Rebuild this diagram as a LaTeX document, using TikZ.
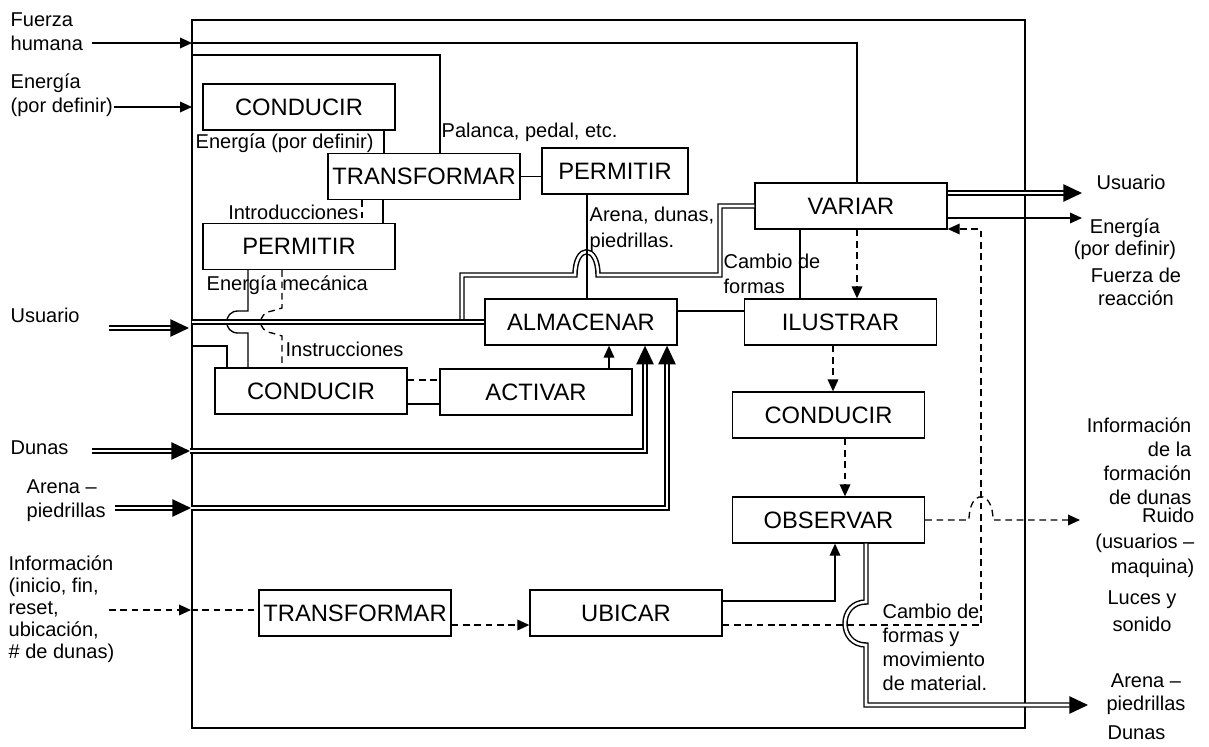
\documentclass[tikz,border=0pt]{standalone}
\usepackage{fontspec}
\setmainfont{Liberation Sans}
\usetikzlibrary{positioning,calc,arrows.meta}

\begin{document}
\begin{tikzpicture}[x=0.75pt,y=-0.75pt,line width=1pt]
\tikzstyle{caja}=[draw,minimum width=144pt,minimum height=34.5pt,inner sep=0pt,
  font=\fontsize{17.8}{20}\selectfont]
\tikzstyle{etiq}=[inner sep=0pt,font=\fontsize{15}{18}\selectfont]
\tikzstyle{dbl}=[double,double distance=1.9pt,line width=1.1pt]
\tikzstyle{trazos}=[dash pattern=on 5pt off 3.5pt]
\tikzstyle{gruesa}=[-{Triangle[length=14pt,width=13pt]}]
\tikzset{>={Triangle[length=9pt,width=8pt]}}
\useasboundingbox (0,0) rectangle (1209,746);
\draw (192,20) rectangle (1025,728);
\node[caja] (condA) at (299,107) {CONDUCIR};
\node[caja] (transA) at (424,176.5) {TRANSFORMAR};
\node[caja,minimum width=109.5pt] (permA) at (615,171) {PERMITIR};
\node[caja] (permB) at (299,246.5) {PERMITIR};
\node[caja] (alm) at (581,322) {ALMACENAR};
\node[caja] (variar) at (851,206) {VARIAR};
\node[caja] (ilus) at (840.5,322) {ILUSTRAR};
\node[caja] (condB) at (311,391) {CONDUCIR};
\node[caja] (activar) at (536,392) {ACTIVAR};
\node[caja] (condC) at (828.5,415) {CONDUCIR};
\node[caja] (observar) at (828.5,520) {OBSERVAR};
\node[caja] (transB) at (355,613) {TRANSFORMAR};
\node[caja] (ubicar) at (626,613) {UBICAR};
\node[etiq,align=left,anchor=west] (fhIn) at (10,32) {Fuerza\\humana};
\node[etiq,align=left,anchor=west] (enIn) at (10,95) {Energía\\(por definir)};
\node[etiq,anchor=west] (usIn) at (10,315) {Usuario};
\node[etiq,anchor=west] (duIn) at (10,448) {Dunas};
\node[etiq,align=left,anchor=west] (arIn) at (26,501) {Arena –\\piedrillas};
\node[etiq,align=left,anchor=west,font=\fontsize{15}{16.5}\selectfont] (infIn) at (8,609)
  {Información\\(inicio, fin,\\reset,\\ubicación,\\\# de dunas)};
\node[etiq,anchor=west] (usOut) at (1096,182) {Usuario};
\node[etiq,align=center,font=\fontsize{15}{16.5}\selectfont] (enOut) at (1125,239) {Energía\\(por definir)};
\node[etiq,align=center,font=\fontsize{15}{17}\selectfont] (frOut) at (1136,287) {Fuerza de\\reacción};
\node[etiq,align=right,anchor=east] (infOut) at (1192,461) {Información\\de la\\formación\\de dunas};
\node[etiq,align=right,anchor=east,font=\fontsize{15}{19}\selectfont] (ruOut) at (1195,543)
  {Ruido\\(usuarios –\\maquina)};
\node[etiq,align=center,font=\fontsize{15}{20}\selectfont] (luOut) at (1142,611) {Luces y\\sonido};
\node[etiq,align=center,font=\fontsize{15}{17}\selectfont] (arOut) at (1146,694) {Arena –\\piedrillas};
\node[etiq,anchor=west] (duOut) at (1107,733) {Dunas};
\node[etiq,anchor=west] (lEnDef) at (195,143) {Energía (por definir)};
\node[etiq,anchor=west] (lPal) at (441,132) {Palanca, pedal, etc.};
\node[etiq,anchor=east] (lIntro) at (359,212) {Introducciones};
\node[etiq,anchor=west] (lEnMec) at (206,285) {Energía mecánica};
\node[etiq,anchor=west] (lInstr) at (285,349) {Instrucciones};
\node[etiq,align=left,anchor=west,font=\fontsize{15}{19.5}\selectfont] (lArena) at (589,229)
  {Arena, dunas,\\piedrillas.};
\node[etiq,align=left,anchor=west,font=\fontsize{15}{18.5}\selectfont] (lCambio) at (723,274)
  {Cambio de\\formas};
\node[etiq,align=left,anchor=west] (lMov) at (882,647) {Cambio de\\formas y\\movimiento\\de material.};
\coordinate (pFH) at (192,43);
\coordinate (pTop) at (192,55);
\coordinate (pEn) at (192,107);
\coordinate (pUs) at (192,322);
\coordinate (pUsIn) at (189,328);
\coordinate (pCB) at (192,346);
\coordinate (pDu) at (190,451);
\coordinate (pAr) at (191,508);
\coordinate (pInf) at (191,610);
\coordinate (oUs) at (1082,193);
\coordinate (oEn) at (1082,218);
\coordinate (oRu) at (1080,520);
\coordinate (oAr) at (1088,705);
\coordinate (kVa) at (981,229);
\draw[->] ($(fhIn.east |- pFH)+(8,0)$) -- (pFH);
\draw (pFH) -| ($(variar.north)+(6,0)$);
\draw[->] (enIn.east |- pEn) -- (pEn);
\draw (pTop) -| ($(transA.north)+(16,0)$);
\draw ($(condA.south)+(85,0)$) -- ($(condA.south |- transA.north)+(85,0)$);
\draw (transA.east) -- (transA.east -| permA.west);
\draw ($(transA.south)+(-41,0)$) -- ($(transA.south |- permB.north)+(-41,0)$);
\draw[trazos] ($(transA.south)+(-62,0)$) -- ($(transA.south |- permB.north)+(-62,0)$);
\draw ($(permB.south)+(-51,0)$) -- (248,311) -- (238,311)
  .. controls (223,311) and (223,333) .. (238,333) -- (248,333)
  -- ($(permB.south |- condB.north)+(-51,0)$);
\draw[trazos] ($(permB.south)+(-17,0)$) -- (282,308) -- (272,311)
  .. controls (257,313) and (257,331) .. (272,333) -- (282,336)
  -- ($(permB.south |- condB.north)+(-17,0)$);
\draw (pCB) -| ($(condB.north)+(-84,0)$);
\draw[trazos] ($(condB.east)+(0,-11)$) -- ($(activar.west |- condB.east)+(0,-11)$);
\draw ($(condB.east)+(0,13)$) -- ($(activar.west |- condB.east)+(0,13)$);
\draw[->] ($(activar.north)+(73,0)$) -- ($(activar.north |- alm.south)+(73,0)$);
\draw[dbl,gruesa] ($(usIn.east |- pUsIn)+(29,0)$) -- (pUsIn);
\draw[dbl] ($(pUs)+(270,0)$) -- (462,275) -- (575,275)
  .. controls (575,244) and (598,244) .. (598,275) -- (720,275) |- (variar.west);
\draw[dbl] (pUs) -- (pUs -| alm.west);
\draw ($(permA.south)+(-28,0)$) -- ($(permA.south |- alm.north)+(-28,0)$);
\draw ($(alm.east)+(0,-11)$) -- ($(ilus.west |- alm.east)+(0,-11)$);
\draw ($(variar.south)+(-51,0)$) -- ($(variar.south |- ilus.north)+(-51,0)$);
\draw[trazos,->] ($(variar.south)+(6,0)$) -- ($(variar.south |- ilus.north)+(6,0)$);
\draw[trazos,->] ($(ilus.south)+(-7.5,0)$) -- ($(ilus.south |- condC.north)+(-7.5,0)$);
\draw[trazos,->] ($(condC.south)+(16.5,0)$) -- ($(condC.south |- observar.north)+(16.5,0)$);
\draw[dbl,gruesa] ($(duIn.east |- pDu)+(23,0)$) -- (pDu);
\draw[dbl,gruesa] (pDu) -| ($(alm.south)+(64,0)$);
\draw[dbl,gruesa] ($(arIn.east |- pAr)+(9,0)$) -- (pAr);
\draw[dbl,gruesa] (pAr) -| ($(alm.south)+(86,0)$);
\draw[trazos,->] ($(infIn.east |- pInf)+(-6,0)$) -- (pInf);
\draw[trazos] (pInf) -- (pInf -| transB.west);
\draw[trazos,->] ($(transB.east)+(0,12)$) -- ($(ubicar.west |- transB.east)+(0,12)$);
\draw[->] ($(ubicar.east)+(0,-12)$) -| ($(observar.south)+(6.5,0)$);
\draw[trazos,->] ($(ubicar.east)+(0,12)$) -| (kVa) -- (kVa -| variar.east);
\draw[trazos,->] (observar.east) -- (969,520)
  .. controls (969,489) and (993,489) .. (993,520) -- (oRu);
\draw[dbl,gruesa] ($(observar.south)+(37.5,0)$) -- (866,602)
  .. controls (838,602) and (838,645) .. (866,645) -- (866,705) -- (oAr);
\draw[dbl,gruesa] (variar.east |- oUs) -- (oUs);
\draw[->] (variar.east |- oEn) -- (oEn);
\end{tikzpicture}
\end{document}
